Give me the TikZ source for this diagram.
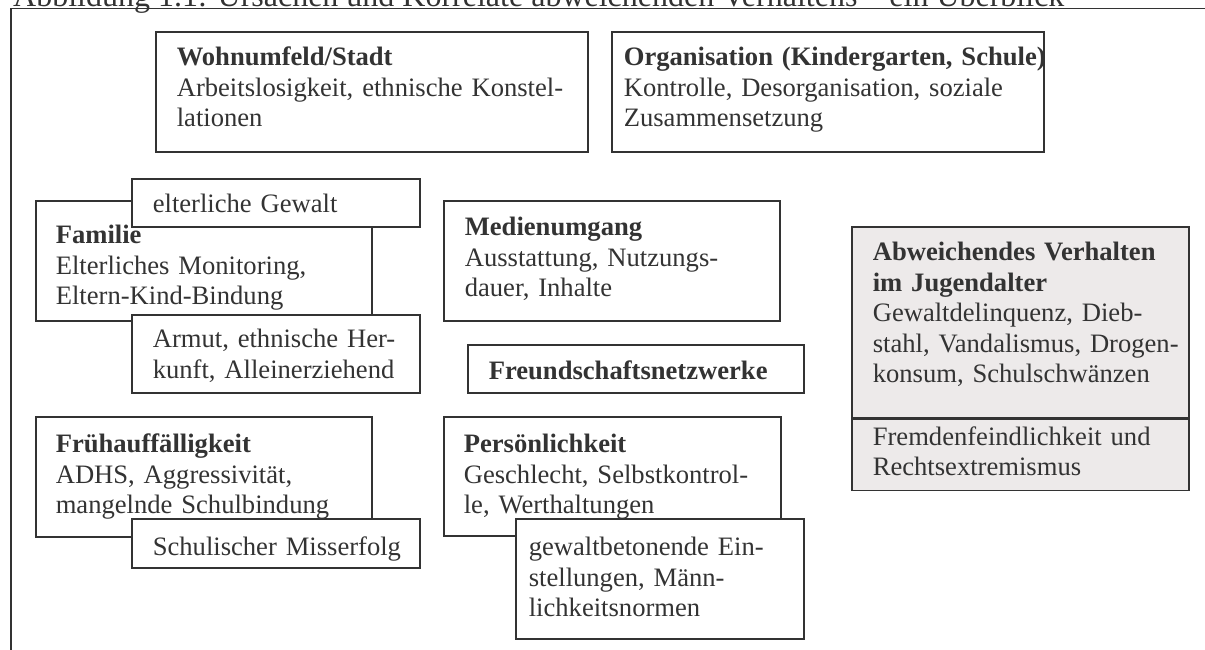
\documentclass[tikz,border=0pt]{standalone}
\usepackage{fontspec}
\setmainfont{Liberation Serif}
\usepackage{tikz}
\definecolor{T}{RGB}{51,51,51}
\definecolor{G}{RGB}{237,234,234}
\tikzset{kasten/.style={draw=T, line width=1.6pt, fill=white, text=T, anchor=north west, inner sep=0pt, align=left, font=\fontsize{26.6}{30.5}\selectfont},
  breit/.style={text width=#1pt}, breit/.default=336,
  einzug/.style={execute at begin node={\leftskip=#1pt}}, einzug/.default=21,
  hoch/.style 2 args={text height=#2pt, text depth=#1pt-#2pt}}

\begin{document}
\begin{tikzpicture}[x=1pt,y=-1pt]
\useasboundingbox (0,0) rectangle (1205,649);
\node[anchor=base west, inner sep=0pt, text=T, font=\fontsize{32}{38}\selectfont] (titel) at (13,6.5) {Abbildung 1.1: Ursachen und Korrelate abweichenden Verhaltens – ein Überblick};
\draw[T, line width=1.6pt] (1210,8.5) -| (11,655);
\node[kasten, breit=432, hoch={120}{34}, einzug] (wohnumfeld) at (155,31) {\textbf{Wohnumfeld/Stadt}\\\mbox{Arbeitslosigkeit, ethnische Konstel-}\\lationen};
\node[kasten, breit=432, hoch={120}{34}, einzug=12] (organisation) at (611,31) {\mbox{\textbf{Organisation (Kindergarten, Schule)}}\\Kontrolle, Desorganisation, soziale\\Zusammensetzung};
\node[kasten, breit, hoch={120}{43}, einzug=20] (familie) at (35,200) {\textbf{Familie}\\Elterliches Monitoring,\\Eltern-Kind-Bindung};
\node[kasten, breit=288, hoch={48}{34}, einzug] (gewalt) at (131,178) {elterliche Gewalt};
\node[kasten, breit=288, hoch={78}{33}, einzug] (armut) at (131,314) {Armut, ethnische Her-\\kunft, Alleinerziehend};
\node[kasten, breit, hoch={120}{35}, einzug] (medien) at (443,200) {\textbf{Medienumgang}\\Ausstattung, Nutzungs-\\dauer, Inhalte};
\node[kasten, breit, hoch={48}{35}, einzug] (freunde) at (467,344) {\textbf{Freundschaftsnetzwerke}};
\node[kasten, fill=G, breit=337, hoch={191}{34}, einzug] (verhalten) at (851,226) {\textbf{Abweichendes Verhalten}\\\textbf{im Jugendalter}\\\mbox{Gewaltdelinquenz, Dieb-}\\\mbox{stahl, Vandalismus, Drogen-}\\konsum, Schulschwänzen};
\node[kasten, fill=G, breit=337, hoch={71}{26}, einzug] (fremden) at (verhalten.south west) {Fremdenfeindlichkeit und\\Rechtsextremismus};
\node[kasten, breit, hoch={120}{36}, einzug=20] (frueh) at (35,416) {\textbf{Frühauffälligkeit}\\ADHS, Aggressivität,\\mangelnde Schulbindung};
\node[kasten, breit=288, hoch={49}{37}, einzug] (misserfolg) at (131,518) {Schulischer Misserfolg};
\node[kasten, breit=337, hoch={119}{36}, einzug=20] (person) at (443,416) {\textbf{Persönlichkeit}\\\mbox{Geschlecht, Selbstkontrol-}\\le, Werthaltungen};
\node[kasten, breit=288, hoch={120}{37}, einzug=13] (einstellung) at (515,518) {gewaltbetonende Ein-\\stellungen, Männ-\\lichkeitsnormen};
\end{tikzpicture}
\end{document}
